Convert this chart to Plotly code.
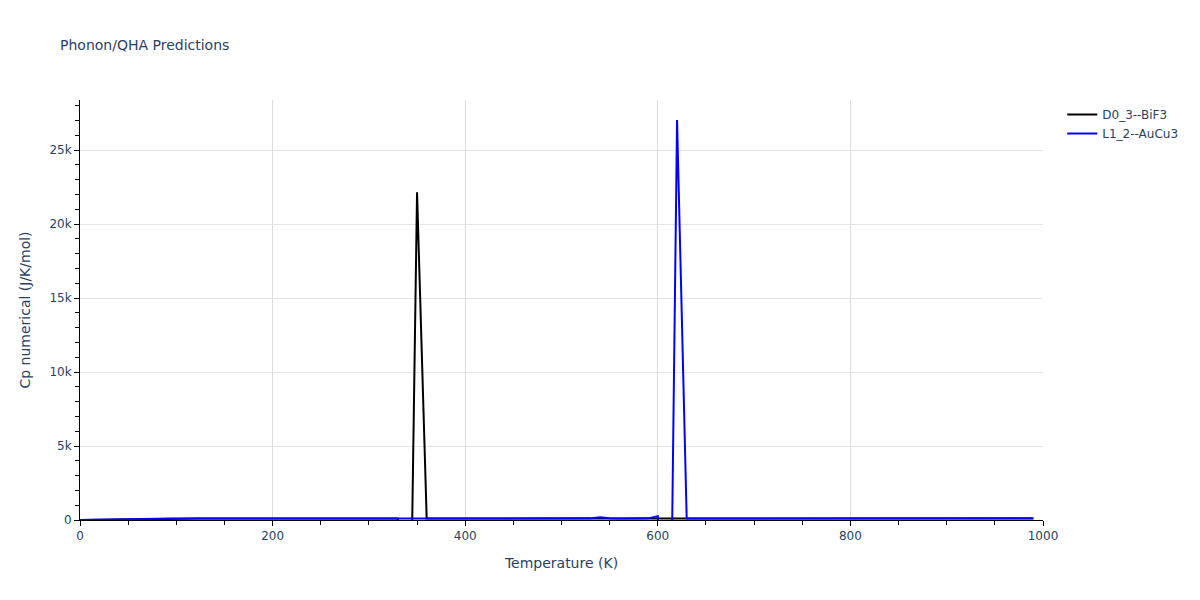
import plotly.graph_objects as go

temperature = list(range(0, 1000, 10))

cp_bif3 = [
    0, 10, 32, 52, 65, 74, 80, 84, 87, 89,
    91, 92, 93, 94, 95, 95, 96, 96, 97, 97,
    97, 98, 98, 98, 98, 99, 99, 99, 99, 99,
    100, 100, 100, 101, -22100, 22150, 102, 102, 102, 102,
    103, 103, 103, 103, 103, 104, 104, 104, 104, 104,
    104, 105, 105, 105, 105, 105, 105, 105, 106, 106,
    106, 106, 106, 106, 106, 106, 107, 107, 107, 107,
    107, 107, 107, 107, 107, 108, 108, 108, 108, 108,
    108, 108, 108, 108, 108, 109, 109, 109, 109, 109,
    109, 109, 109, 109, 110, 110, 110, 110, 110, 110,
]

cp_aucu3 = [
    0, 15, 45, 65, 76, 83, 87, 90, 92, 93,
    94, 95, 95, 96, 96, 97, 97, 97, 97, 98,
    98, 98, 98, 98, 98, 99, 99, 99, 99, 99,
    99, 99, 100, 100, 100, 100, 100, 100, 100, 100,
    100, 100, 101, 101, 101, 101, 101, 101, 101, 101,
    101, 102, 102, 110, 180, 115, 104, 104, 105, 110,
    260, -26900, 27030, 108, 104, 104, 104, 104, 104, 105,
    105, 105, 105, 105, 105, 105, 105, 106, 106, 106,
    106, 106, 106, 106, 106, 107, 107, 107, 107, 107,
    107, 107, 107, 107, 108, 108, 108, 108, 108, 108,
]

series_names = ["D0_3--BiF3", "L1_2--AuCu3"]
series_colors = ["black", "blue"]

fig = go.Figure()
for name, vals, col in zip(series_names, [cp_bif3, cp_aucu3], series_colors):
    fig.add_trace(go.Scatter(x=temperature, y=vals, mode="lines", name=name,
                             line=dict(color=col, width=2)))

ymax = max(max(cp_bif3), max(cp_aucu3)) * 1.05

fig.update_layout(
    template="plotly_white",
    width=1200, height=600,
    margin=dict(l=72, r=165, t=92, b=88),
    font=dict(family="DejaVu Sans", size=12),
    title=dict(text="Phonon/QHA Predictions", font=dict(size=14),
               x=52 / 1200, xanchor="left", y=1 - 37 / 600, yanchor="middle"),
    xaxis=dict(title=dict(text="Temperature (K)"), range=[0, 1000],
               showline=True, linecolor="black", ticks="outside", ticklen=5,
               tickcolor="black", gridcolor="#dcdcdc", zeroline=False,
               dtick=200, minor=dict(dtick=50, ticks="outside", ticklen=4, tickcolor="black")),
    yaxis=dict(title=dict(text="Cp numerical (J/K/mol)"), range=[0, ymax],
               showline=True, linecolor="black", ticks="outside", ticklen=5,
               tickcolor="black", gridcolor="#e3e3e3", zeroline=False,
               dtick=5000, minor=dict(dtick=1000, ticks="outside", ticklen=4, tickcolor="black")),
)

fig.write_html("out.html")
